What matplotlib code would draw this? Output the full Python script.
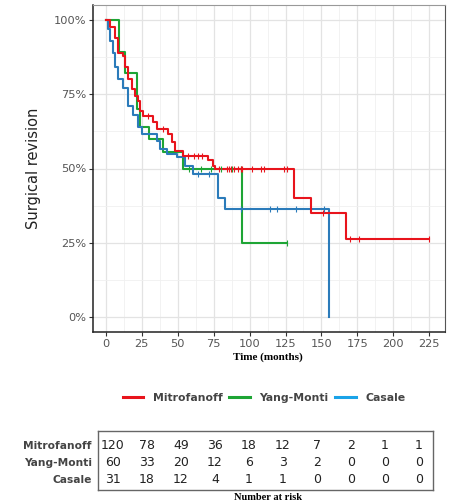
import numpy as np
import matplotlib
matplotlib.use('Agg')
import matplotlib.pyplot as plt
from matplotlib.lines import Line2D

# Kaplan-Meier steps (time in months, survival fraction)
mitro_t = [0, 2.8, 6.3, 8.6, 12, 13.2, 15.5, 17.9, 20.2, 22.5, 23.7, 26, 32.9, 35.3,
           43.4, 45.8, 48, 53.6, 71.2, 74.7, 75.9, 131, 143, 167, 225]
mitro_s = [1.0, 0.977, 0.94, 0.89, 0.877, 0.84, 0.80, 0.766, 0.743, 0.727, 0.693, 0.677,
           0.655, 0.632, 0.615, 0.59, 0.56, 0.543, 0.527, 0.51, 0.50, 0.40, 0.351, 0.264, 0.264]
yang_t = [0, 9, 13.3, 21.3, 24, 30, 40, 53.6, 95, 126]
yang_s = [1.0, 0.893, 0.82, 0.70, 0.64, 0.60, 0.555, 0.50, 0.25, 0.25]
casale_t = [0, 1.5, 3, 5, 6.3, 8.6, 12, 15.5, 19, 22.5, 25, 35.3, 37.6, 42.3, 49.3,
            55, 60.8, 78.2, 82.9, 155.6, 155.6]
casale_s = [1.0, 0.97, 0.93, 0.89, 0.843, 0.80, 0.77, 0.71, 0.68, 0.64, 0.615, 0.593,
            0.566, 0.55, 0.54, 0.51, 0.482, 0.40, 0.363, 0.363, 0.0]

# censoring marks
mitro_cens = [29, 40, 57, 61, 64, 67, 79, 84, 86, 87, 89, 92, 94, 95, 102, 108, 110,
              124, 126, 151, 170, 176, 225]
yang_cens = [58, 66, 73, 80, 88, 94, 126]
casale_cens = [64, 72, 94, 114, 119, 132, 152]

groups = ['Mitrofanoff', 'Yang-Monti', 'Casale']
risk_times = [0, 25, 50, 75, 100, 125, 150, 175, 200, 225]
at_risk = {
    'Mitrofanoff': [120, 78, 49, 36, 18, 12, 7, 2, 1, 1],
    'Yang-Monti': [60, 33, 20, 12, 6, 3, 2, 0, 0, 0],
    'Casale': [31, 18, 12, 4, 1, 1, 0, 0, 0, 0],
}

red = '#e8141c'
green = '#1ea535'
blue = '#2b7bba'
blue_leg = '#1aa3e8'


def step_val(ts, ss, t):
    idx = np.searchsorted(ts, t, side='right') - 1
    return ss[max(idx, 0)]


fig = plt.figure(figsize=(4.5, 5.03), dpi=100)
ax = fig.add_axes([93 / 450, 1 - 332 / 503, 352 / 450, 327 / 503])

for ts, ss, cens, col in [(yang_t, yang_s, yang_cens, green),
                          (casale_t, casale_s, casale_cens, blue),
                          (mitro_t, mitro_s, mitro_cens, red)]:
    ax.step(ts, ss, where='post', color=col, lw=1.5, zorder=3)
    cy = [step_val(ts, ss, c) for c in cens]
    ax.plot(cens, cy, ls='none', marker='|', ms=5, mew=0.8, color=col, zorder=4)

ax.set_xlim(-9, 236)
ax.set_ylim(-0.05, 1.05)
ax.set_xticks(risk_times)
ax.set_yticks([0, 0.25, 0.5, 0.75, 1.0])
ax.set_yticklabels(['0%', '25%', '50%', '75%', '100%'])
ax.set_xticks(np.arange(12.5, 230, 25), minor=True)
ax.set_yticks([0.125, 0.375, 0.625, 0.875], minor=True)
ax.grid(which='major', color='#e3e3e3', lw=0.9)
ax.grid(which='minor', color='#f0f0f0', lw=0.6)
ax.set_axisbelow(True)
ax.tick_params(which='minor', length=0)
ax.tick_params(which='major', length=3, width=0.8, colors='#333333', labelsize=8.2,
               labelcolor='#555555', pad=2)
for s in ['left', 'bottom']:
    ax.spines[s].set_color('#222222')
    ax.spines[s].set_linewidth(1.1)
ax.spines['top'].set_color('#999999')
ax.spines['right'].set_color('#555555')
ax.set_ylabel('Surgical revision', fontsize=10.5, color='#222222', labelpad=9)

fig.text(268 / 450, 1 - 357 / 503, 'Time (months)', ha='center', va='center',
         family='Liberation Serif', weight='bold', fontsize=8)

# legend
handles = [Line2D([], [], color=red, lw=2.2),
           Line2D([], [], color=green, lw=2.2),
           Line2D([], [], color=blue_leg, lw=2.2)]
leg = fig.legend(handles, groups, loc='center', bbox_to_anchor=(264 / 450, 1 - 398 / 503),
                 ncol=3, frameon=False, handlelength=1.9, columnspacing=0.6,
                 handletextpad=0.9, prop={'weight': 'bold', 'size': 7.8})
for t in leg.get_texts():
    t.set_color('#444444')

# number at risk table
tab = fig.add_axes([98 / 450, 1 - 490 / 503, 335 / 450, 59 / 503])
tab.set_xlim(-0.44, 9.41)
tab.set_ylim(2.59, -0.88)
tab.set_xticks([])
tab.set_yticks([])
for s in tab.spines.values():
    s.set_color('#666666')
    s.set_linewidth(1.0)
for r, g in enumerate(groups):
    for i, v in enumerate(at_risk[g]):
        tab.text(i, r, str(v), ha='center', va='center', fontsize=9, color='#222222')
    tab.text(-0.62, r, g, ha='right', va='center', fontsize=7.7, weight='bold',
             color='#444444', clip_on=False)

fig.text(268 / 450, 1 - 497 / 503, 'Number at risk', ha='center', va='center',
         family='Liberation Serif', weight='bold', fontsize=7.5)

fig.savefig('out.png', dpi=100)
